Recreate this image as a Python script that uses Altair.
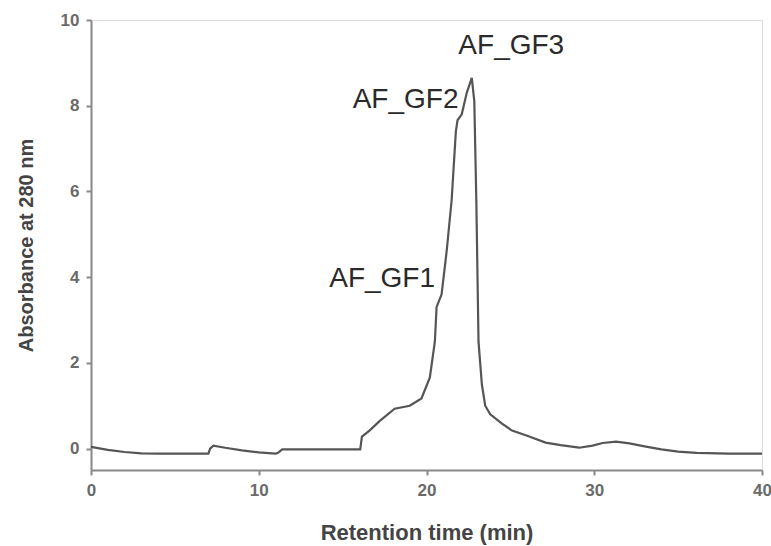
import altair as alt
import pandas as pd

# Chromatogram trace (retention time in min, absorbance at 280 nm)
time_min = [0, 1, 2, 3, 4, 5, 6, 7.0, 7.1, 7.3, 8, 9, 10, 11.0, 11.15, 11.4,
            12, 14, 16.05, 16.15, 16.6, 17.2, 18.1, 19.0, 19.7, 20.2, 20.5,
            20.6, 20.9, 21.2, 21.5, 21.75, 21.85, 22.1, 22.4, 22.7, 22.85,
            22.97, 23.1, 23.3, 23.5, 23.8, 24.5, 25.1, 26, 27.1, 28, 29.1,
            29.9, 30.5, 31.3, 32.1, 33, 34, 35, 36.1, 38, 40]
absorbance = [0.04, -0.03, -0.08, -0.11, -0.12, -0.12, -0.12, -0.12, 0.0, 0.07,
              0.02, -0.04, -0.09, -0.12, -0.10, -0.02,
              -0.02, -0.02, -0.02, 0.28, 0.42, 0.64, 0.93, 1.0, 1.17, 1.66, 2.5,
              3.3, 3.6, 4.6, 5.8, 7.4, 7.66, 7.8, 8.3, 8.65, 8.1,
              5.8, 2.5, 1.5, 1.0, 0.8, 0.58, 0.42, 0.3, 0.14, 0.08, 0.02,
              0.07, 0.13, 0.16, 0.12, 0.05, -0.02, -0.07, -0.1, -0.12, -0.12]

# Peak annotations
label_text = ["AF_GF1", "AF_GF2", "AF_GF3"]
label_x = [14.2, 15.6, 21.9]
label_y = [3.78, 7.95, 9.2]

x_ticks = [0, 10, 20, 30, 40]
y_ticks = [0, 2, 4, 6, 8, 10]

trace = pd.DataFrame({"t": time_min, "a": absorbance})
labels = pd.DataFrame({"label": label_text, "t": label_x, "a": label_y})

x_scale = alt.Scale(domain=[0, 40], nice=False, zero=False)
y_scale = alt.Scale(domain=[-0.5, 10], nice=False, zero=False)

line = alt.Chart(trace).mark_line(color="#555555", strokeWidth=2.2).encode(
    x=alt.X("t:Q", scale=x_scale,
            axis=alt.Axis(values=x_ticks, title="Retention time (min)", grid=False,
                          domainColor="#888888", domainWidth=2, tickColor="#888888",
                          tickWidth=2, tickSize=5, labelPadding=7, labelFlush=False,
                          labelFont="Liberation Sans", labelFontSize=17,
                          labelFontWeight="bold", labelColor="#6a6a6a",
                          titleFont="Liberation Sans", titleFontSize=22,
                          titleFontWeight="bold", titleColor="#444444",
                          titleBaseline="alphabetic", titleY=69)),
    y=alt.Y("a:Q", scale=y_scale,
            axis=alt.Axis(values=y_ticks, title="Absorbance at 280 nm", grid=False,
                          domainColor="#888888", domainWidth=2, tickColor="#888888",
                          tickWidth=2, tickSize=5, labelPadding=7, labelFlush=False,
                          labelFont="Liberation Sans", labelFontSize=17,
                          labelFontWeight="bold", labelColor="#6a6a6a",
                          titleFont="Liberation Sans", titleFontSize=20,
                          titleFontWeight="bold", titleColor="#444444",
                          titleAngle=-90, titleAlign="center",
                          titleBaseline="middle", titleX=-65, titleY=225)),
)

text = alt.Chart(labels).mark_text(
    align="left", baseline="alphabetic", font="Liberation Sans",
    fontSize=28, color="#2a2a2a"
).encode(
    x=alt.X("t:Q", scale=x_scale),
    y=alt.Y("a:Q", scale=y_scale),
    text="label:N",
)

chart = (line + text).properties(
    width=671, height=450,
    autosize="none",
    padding={"left": 91, "top": 20, "right": 9, "bottom": 76},
).configure_view(stroke=None).configure(background="white")

chart.save("out.html", embed_options={"renderer": "svg", "actions": False})
